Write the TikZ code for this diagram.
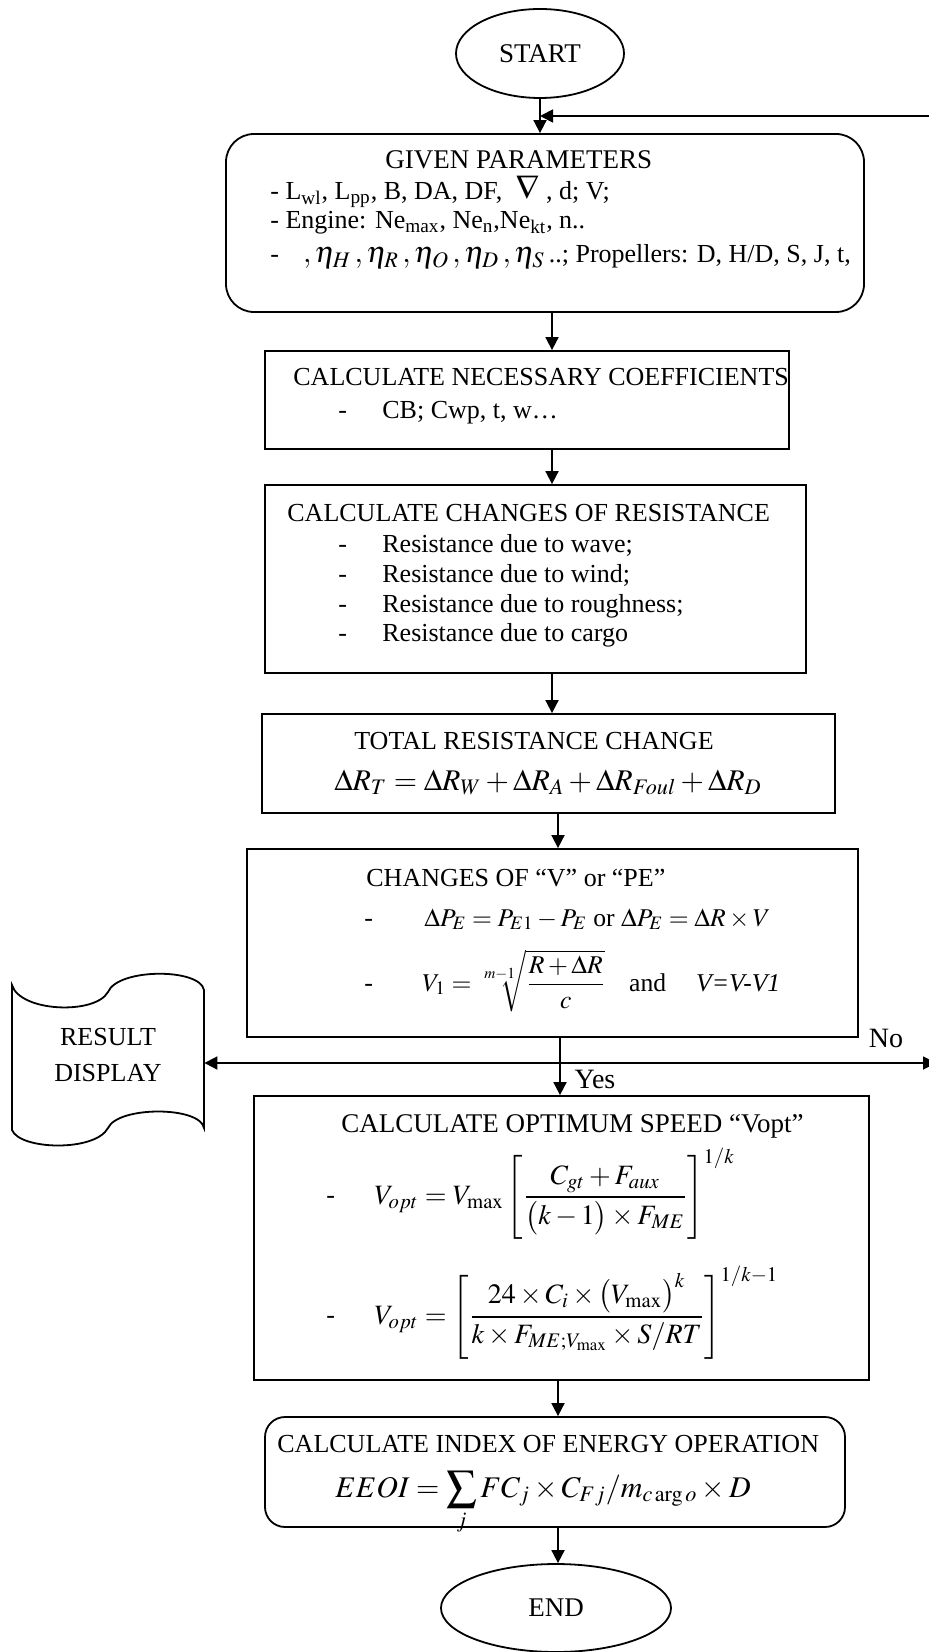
\documentclass[tikz,border=0pt]{standalone}
\usepackage{amsmath}
\usepackage{mathptmx}
\usepackage{fontspec}
\setmainfont{Liberation Serif}
\usetikzlibrary{arrows.meta,shapes.geometric,fit}
\tikzset{
  box/.style={draw, line width=0.9pt, inner sep=0pt},
  rboxA/.style={box, rounded corners=14pt},
  rboxB/.style={box, rounded corners=10pt},
  term/.style={draw, ellipse, line width=0.9pt, inner sep=0pt, font=\fontsize{13.5}{15}\selectfont},
  arr/.style={line width=0.9pt, -{Triangle[length=6.5pt,width=6.5pt]}},
  arrboth/.style={line width=0.9pt, {Triangle[length=6.5pt,width=6.5pt]}-{Triangle[length=6.5pt,width=6.5pt]}},
  txt/.style={inner sep=0pt, anchor=base west, font=\fontsize{13}{15}\selectfont},
  ctxt/.style={inner sep=0pt, anchor=base, font=\fontsize{13}{15}\selectfont},
  mth/.style={inner sep=0pt, anchor=base west, font=\fontsize{15}{18}\selectfont},
  mthm/.style={inner sep=0pt, anchor=base west, font=\fontsize{14}{17}\selectfont},
  mths/.style={inner sep=0pt, anchor=base west, font=\fontsize{12.8}{15}\selectfont},
  lbl/.style={inner sep=0pt, font=\fontsize{14}{16}\selectfont},
}
\begin{document}
\begin{tikzpicture}[x=0.5pt,y=-0.5pt]
\useasboundingbox (0,0) rectangle (929,1652);
\clip (0,0) rectangle (929,1652);

% terminals
\node[term, minimum width=84pt, minimum height=44.5pt] (start) at (540,53.5) {START};
\node[term, minimum width=115pt, minimum height=44pt] (end) at (556,1608) {END};

% boxes
\node[rboxA, fit={(226,134) (864,312)}] (given) {};
\node[box, fit={(265,351) (789,449)}] (calc) {};
\node[box, fit={(265,485) (806,673)}] (chg) {};
\node[box, fit={(262,714) (835,813)}] (tot) {};
\node[box, fit={(247,849) (858,1037)}] (chv) {};
\node[box, fit={(254,1096) (869,1380)}] (opt) {};
\node[rboxB, fit={(265,1417) (845,1527)}] (eeoi) {};

% result display (punched tape)
\draw[line width=0.9pt] (12,985) .. controls (20,1012) and (95,1015) .. (108,992)
  .. controls (118,968) and (200,968) .. (204,990) -- (204,1128)
  .. controls (200,1106) and (118,1106) .. (108,1128)
  .. controls (95,1152) and (20,1150) .. (12,1130) -- cycle;
\node[inner sep=0pt, align=center, font=\fontsize{13}{18}\selectfont,
      minimum width=96pt, minimum height=70pt] (result) at (108,1055) {RESULT\\DISPLAY};

% GIVEN PARAMETERS
\node[txt, font=\fontsize{13.5}{15}\selectfont] (g0) at (385,169) {GIVEN PARAMETERS};
\node[txt] (g1) at (270,200) {- L\textsubscript{wl}, L\textsubscript{pp}, B, DA, DF, \ {\fontsize{17}{17}\selectfont$\nabla$} , d; V;};
\node[txt] (g2) at (270,229) {- Engine: Ne\textsubscript{max}, Ne\textsubscript{n},Ne\textsubscript{kt}, n..};
\node[txt] (g3) at (270,263) {-\hspace{12pt}{\fontsize{15}{15}\selectfont$,\eta_H\,,\eta_R\,,\eta_O\,,\eta_D\,,\eta_S$}\,..; Propellers: D, H/D, S, J, t,};

% CALCULATE NECESSARY COEFFICIENTS
\node[txt] (c0) at (293,386) {CALCULATE NECESSARY COEFFICIENTS};
\node[txt] (c1d) at (338,419) {-};
\node[txt] (c1) at (382,419) {CB; Cwp, t, w…};

% CALCULATE CHANGES OF RESISTANCE
\node[txt] (r0) at (287,521) {CALCULATE CHANGES OF RESISTANCE};
\node[txt] (r1d) at (338,552) {-};
\node[txt] (r1) at (382,552) {Resistance due to wave;};
\node[txt] (r2d) at (338,582) {-};
\node[txt] (r2) at (382,582) {Resistance due to wind;};
\node[txt] (r3d) at (338,612) {-};
\node[txt] (r3) at (382,612) {Resistance due to roughness;};
\node[txt] (r4d) at (338,641) {-};
\node[txt] (r4) at (382,641) {Resistance due to cargo};

% TOTAL RESISTANCE CHANGE
\node[ctxt] (t0) at (534,749) {TOTAL RESISTANCE CHANGE};
\node[mth, anchor=base] (t1) at (548,790) {$\Delta R_T = \Delta R_W + \Delta R_A + \Delta R_{Foul} + \Delta R_D$};

% CHANGES OF V or PE
\node[txt] (v0) at (366,886) {CHANGES OF “V” or “PE”};
\node[txt] (v1d) at (364,926) {-};
\node[mths] (v1) at (424,926) {$\Delta P_E = P_{E1} - P_E$ or $\Delta P_E = \Delta R\times V$};
\node[txt] (v2d) at (364,991) {-};
\node[mths] (v2) at (422,991) {$V_1 = \sqrt[m-1]{\dfrac{R+\Delta R}{c}}$\hspace{12pt}and\hspace{15pt}\textit{V=V-V1}};

% CALCULATE OPTIMUM SPEED
\node[txt, font=\fontsize{13.5}{15}\selectfont] (o0) at (341,1132) {CALCULATE OPTIMUM SPEED “Vopt”};
\node[txt] (o1d) at (326,1203) {-};
\node[mthm] (o1) at (374,1204) {$V_{opt} = V_{\max}\left[\dfrac{C_{gt}+F_{aux}}{\bigl(k-1\bigr)\times F_{ME}}\right]^{1/k}$};
\node[txt] (o2d) at (326,1323) {-};
\node[mthm] (o2) at (374,1324) {$V_{opt} = \left[\dfrac{24\times C_i\times\bigl(V_{\max}\bigr)^k}{k\times F_{ME;V_{\max}}\times S/RT}\right]^{1/k-1}$};

% EEOI
\node[txt] (e0) at (277,1452) {CALCULATE INDEX OF ENERGY OPERATION};
\node[mth, anchor=base] (e1) at (543,1497) {$EEOI = \displaystyle\sum_j FC_j\times C_{Fj}/m_{c\arg o}\times D$};

% labels
\node[lbl] (yes) at (595,1079) {Yes};
\node[lbl] (no) at (886,1038) {No};

% connectors
\coordinate (c1) at (552,0);
\coordinate (c2) at (558,0);
\coordinate (j) at (560,1063);
\coordinate (rightend) at (936,1063);
\coordinate (loopin) at (936,116);
\draw[arr] (start.south) -- (start.south |- given.north);
\draw[arr] (loopin) -- (loopin -| start.south);
\draw[arr] (given.south -| c1) -- (calc.north -| c1);
\draw[arr] (calc.south -| c1) -- (chg.north -| c1);
\draw[arr] (chg.south -| c1) -- (tot.north -| c1);
\draw[arr] (tot.south -| c2) -- (chv.north -| c2);
\draw[arr] (chv.south -| j) -- (opt.north -| j);
\draw[arrboth] (result.east |- j) -- (rightend);
\draw[arr] (opt.south -| c2) -- (eeoi.north -| c2);
\draw[arr] (eeoi.south -| c2) -- (end.north -| c2);
\end{tikzpicture}
\end{document}
